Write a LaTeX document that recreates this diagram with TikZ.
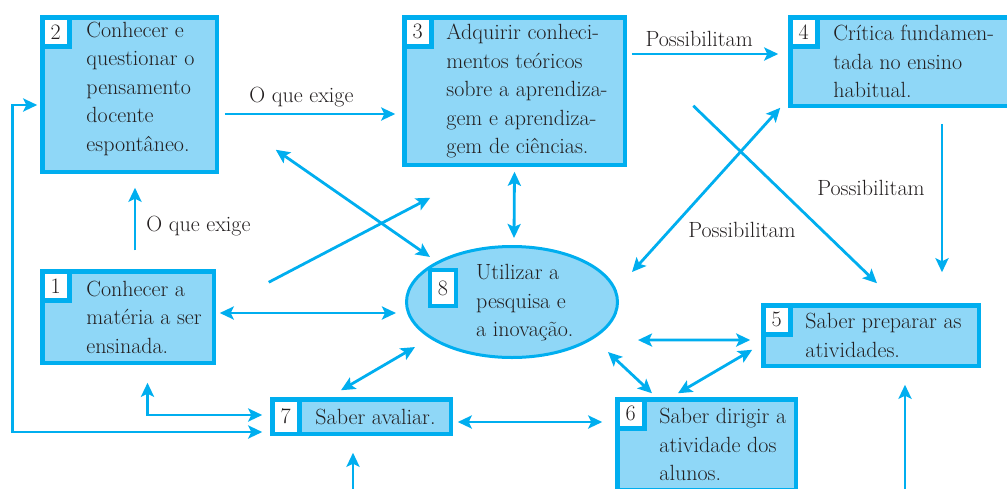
\documentclass[tikz,border=0pt]{standalone}
\usepackage{tikz}
\usetikzlibrary{arrows.meta,
                calc,
                positioning,
                shapes.geometric
                }
\definecolor{linecyan}{HTML}{00AEEF}
\definecolor{boxfill}{HTML}{8FD7F7}
\definecolor{inkgray}{HTML}{231F20}

\begin{document}
\begin{tikzpicture}[x=1pt, y=-1pt,
node distance = 0pt,
          font = \fontsize{22}{28.5}\selectfont,
          text = inkgray,
             > = {Stealth[length=14pt, width=13pt, inset=3pt]},
 BX/.style 2 args = {draw=linecyan, line width=4.5pt, fill=boxfill,
        inner sep=0pt, outer sep=0pt,
        minimum width=#1, minimum height=#2},
    NB/.style = {draw=linecyan, line width=4.5pt, fill=white,
        inner sep=0pt, outer sep=0pt, anchor=north west,
        minimum width=27pt, minimum height=#1},
  NB/.default = 29pt,
    TX/.style = {align=left, inner sep=0pt},
    AR/.style = {draw=linecyan, line width=2.8pt},
    LB/.style = {inner sep=2pt},
                        ]
\useasboundingbox (0,0) rectangle (1007,488);
% boxes
\node[BX={174.5pt}{154.5pt}] (b2) at (129.5,94.5) {};
\node[BX={220.5pt}{147.5pt}] (b3) at (514.5,91)   {};
\node[BX={223.5pt}{88.5pt}]  (b4) at (902,61.5)   {};
\node[BX={171.5pt}{91.5pt}]  (b1) at (128,317)    {};
\node[BX={178.5pt}{34.5pt}]  (b7) at (361.5,416.5) {};
\node[BX={178.5pt}{90.5pt}]  (b6) at (706.5,444.5) {};
\node[BX={215.5pt}{60.5pt}]  (b5) at (871,335.5)  {};
\node[ellipse, draw=linecyan, line width=3pt, fill=boxfill,
      inner sep=0pt, outer sep=0pt,
      minimum width=211pt, minimum height=111pt] (e8) at (512,302) {};
% numbers
\node[NB] (n2) at (b2.north west) {2};
\node[NB] (n3) at (b3.north west) {3};
\node[NB] (n4) at (b4.north west) {4};
\node[NB] (n1) at (b1.north west) {1};
\node[NB=34.5pt] (n7) at (b7.north west) {7};
\node[NB] (n6) at (b6.north west) {6};
\node[NB] (n5) at (b5.north west) {5};
\node[NB, line width=4pt, anchor=center,
      minimum width=26pt, minimum height=36pt] (n8) at (443,288) {8};
% texts
\node[TX, right=44pt of b2.west, yshift=6pt] (t2) {Conhecer e\\
                                       questionar o\\
                                       pensamento\\
                                       docente\\
                                       espontâneo.};
\node[TX, right=42pt of b3.west] (t3) {Adquirir conheci-\\
                                       mentos teóricos\\
                                       sobre a aprendiza-\\
                                       gem e aprendiza-\\
                                       gem de ciências.};
\node[TX, right=43pt of b4.west] (t4) {Crítica fundamen-\\
                                       tada no ensino\\
                                       habitual.};
\node[TX, right=44pt of b1.west] (t1) {Conhecer a\\
                                       matéria a ser\\
                                       ensinada.};
\node[TX, right=43pt of b7.west] (t7) {Saber avaliar.};
\node[TX, right=42pt of b6.west] (t6) {Saber dirigir a\\
                                       atividade dos\\
                                       alunos.};
\node[TX, right=42pt of b5.west] (t5) {Saber preparar as\\
                                       atividades.};
\node[TX, anchor=west] (t8) at (476,303) {Utilizar a\\
                                          pesquisa e\\
                                          a inovação.};
% connectors
\draw[AR,->]    ($(b2.east)+(8,19.5)$) --
                    node[LB, above=4pt, pos=0.45] (l1) {O que exige}
                ($(b3.west)+(-9,23)$);
\draw[AR,->]    ($(b1.north)+(7,-21)$) --
                    node[LB, right=8pt, pos=0.39] (l2) {O que exige}
                ($(b2.south)+(5.5,16)$);
\draw[AR,->]    ($(b3.east)+(7,-37)$) --
                    node[LB, above=4pt, pos=0.46] (l3) {Possibilitam}
                ($(b4.west)+(-12,-7.5)$);
\draw[AR,->]    ($(b4.south)+(40,18)$) --
                    node[LB, left=14pt, pos=0.43] (l4) {Possibilitam}
                ($(b5.north)+(71,-33)$);
\draw[AR,->]    ($(b4.south west)+(-97,0)$) -- ($(b5.north)+(6,-22)$);
\draw[AR,<->]   ($(e8.east)+(14.5,-30)$) -- ($(b4.south west)+(-10,2)$);
\node[LB] (l5) at (742,230) {Possibilitam};
%
\draw[AR,<->]   ($(b3.south)+(0,7)$) -- ($(e8.north)+(2,-8.5)$);
\draw[AR,<->]   ($(b2.south east)+(59,-22)$) -- ($(e8.north west)+(-7.4,-5.8)$);
\draw[AR,->]    ($(b1.north east)+(55,11)$) -- ($(b3.south west)+(26,33)$);
\draw[AR,<->]   ($(b1.east)+(6,-4)$) -- ($(e8.west)+(-10.5,11)$);
\draw[AR,<->]   ($(b7.north)+(-20.5,-9)$) -- ($(e8.south west)+(-22.4,5.8)$);
\draw[AR,<->]   ($(e8.south east)+(51.4,-1.2)$) -- ($(b5.west)+(-13,4.5)$);
\draw[AR,<->]   ($(e8.south east)+(21.4,10.8)$) -- ($(b6.north)+(-54.5,-6)$);
\draw[AR,<->]   ($(b6.north)+(-28.5,-6)$) -- ($(b5.south west)+(-11,-16)$);
\draw[AR,<->]   ($(b7.east)+(7,5.5)$) -- ($(b6.west)+(-15,-22.5)$);
\draw[AR,<->]   ($(b1.south)+(19.5,20)$) |- ($(b7.west)+(-10,-1.5)$);
\draw[AR,<->]   ($(b2.west)+(-5,10.5)$) -- ++(-25,0)
                    |- ($(b7.west)+(-10,15.5)$);
%
\coordinate (in7) at (353,492);
\coordinate (in5) at (905,492);
\draw[AR,->]    (in7) -- ($(b7.south)+(-8.5,19)$);
\draw[AR,->]    (in5) -- ($(b5.south)+(34,19)$);
    \end{tikzpicture}
\end{document}
